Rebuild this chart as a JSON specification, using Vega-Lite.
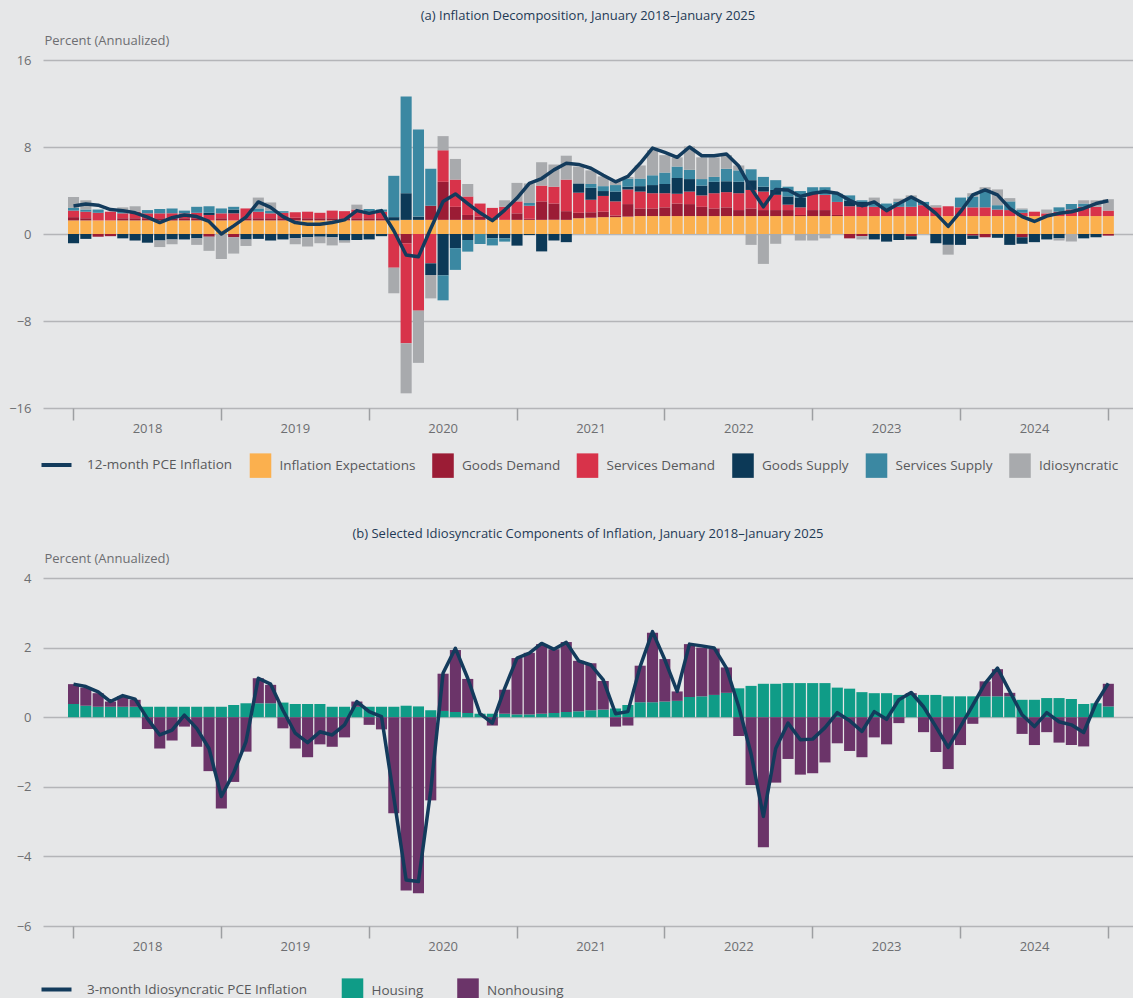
{
  "$schema": "https://vega.github.io/schema/vega-lite/v6.json",
  "background": "#e6e7e8",
  "padding": {"left": 0, "top": 10, "right": 0, "bottom": 0},
  "spacing": 50,
  "config": {
    "font": "Open Sans",
    "view": {"stroke": null},
    "title": {"fontSize": 13, "fontWeight": "normal", "color": "#1f3a56", "font": "Open Sans"},
    "axis": {"labelFont": "Open Sans", "labelFontSize": 13, "labelColor": "#6d6e71", "titleFont": "Open Sans"},
    "legend": {"labelFont": "Open Sans", "labelFontSize": 13.5, "labelColor": "#58595b", "labelLimit": 400}
  },
  "resolve": {
    "scale": {"color": "independent", "stroke": "independent", "x": "independent", "y": "independent"},
    "legend": {"color": "independent", "stroke": "independent"}
  },
  "datasets": {
    "a": [
      {"m":"2018-01","k1":1.25,"k2":0.3,"k3":0.6,"k4":-0.85,"k5":0.25,"k6":1.0,"L":2.58},
      {"m":"2018-02","k1":1.25,"k2":0.2,"k3":0.6,"k4":-0.45,"k5":0.2,"k6":0.85,"L":2.75},
      {"m":"2018-03","k1":1.25,"k2":-0.25,"k3":0.7,"k4":0,"k5":0.3,"k6":0,"L":2.65},
      {"m":"2018-04","k1":1.25,"k2":-0.2,"k3":0.8,"k4":0,"k5":0,"k6":0,"L":2.25},
      {"m":"2018-05","k1":1.25,"k2":0.2,"k3":0.45,"k4":-0.4,"k5":0.25,"k6":0.3,"L":2.15},
      {"m":"2018-06","k1":1.25,"k2":0.2,"k3":0.6,"k4":-0.6,"k5":0,"k6":0.5,"L":1.95},
      {"m":"2018-07","k1":1.25,"k2":0.2,"k3":0.45,"k4":-0.8,"k5":0.3,"k6":0,"L":1.55},
      {"m":"2018-08","k1":1.25,"k2":0.2,"k3":0.45,"k4":-0.6,"k5":0.4,"k6":-0.6,"L":1.05},
      {"m":"2018-09","k1":1.25,"k2":0.2,"k3":0.45,"k4":-0.5,"k5":0.45,"k6":-0.45,"L":1.5},
      {"m":"2018-10","k1":1.25,"k2":0.2,"k3":0.45,"k4":-0.5,"k5":0.25,"k6":0,"L":1.75},
      {"m":"2018-11","k1":1.25,"k2":0.2,"k3":0.5,"k4":-0.4,"k5":0.55,"k6":-0.6,"L":1.6},
      {"m":"2018-12","k1":1.25,"k2":-0.25,"k3":0.5,"k4":0.2,"k5":0.6,"k6":-1.3,"L":1.15},
      {"m":"2019-01","k1":1.25,"k2":0.2,"k3":0.45,"k4":0,"k5":0.45,"k6":-2.3,"L":0.0},
      {"m":"2019-02","k1":1.25,"k2":-0.3,"k3":0.65,"k4":0.35,"k5":0.25,"k6":-1.5,"L":0.75},
      {"m":"2019-03","k1":1.25,"k2":0.2,"k3":0.9,"k4":-0.5,"k5":0,"k6":-0.6,"L":1.55},
      {"m":"2019-04","k1":1.25,"k2":0.2,"k3":0.6,"k4":-0.45,"k5":0.3,"k6":1.0,"L":2.95},
      {"m":"2019-05","k1":1.25,"k2":0.2,"k3":0.45,"k4":-0.6,"k5":0.25,"k6":0.75,"L":2.45},
      {"m":"2019-06","k1":1.25,"k2":0.2,"k3":0.5,"k4":-0.5,"k5":0.15,"k6":0,"L":1.6},
      {"m":"2019-07","k1":1.25,"k2":0.25,"k3":0.5,"k4":-0.4,"k5":0,"k6":-0.55,"L":1.05},
      {"m":"2019-08","k1":1.25,"k2":0.2,"k3":0.6,"k4":-0.3,"k5":0,"k6":-0.85,"L":0.9},
      {"m":"2019-09","k1":1.25,"k2":0.2,"k3":0.5,"k4":-0.25,"k5":0,"k6":-0.6,"L":0.9},
      {"m":"2019-10","k1":1.25,"k2":0.2,"k3":0.7,"k4":-0.3,"k5":0,"k6":-0.75,"L":1.05},
      {"m":"2019-11","k1":1.25,"k2":0.2,"k3":0.65,"k4":-0.6,"k5":0,"k6":-0.2,"L":1.3},
      {"m":"2019-12","k1":1.25,"k2":0.2,"k3":0.8,"k4":-0.55,"k5":0,"k6":0.45,"L":2.15},
      {"m":"2020-01","k1":1.25,"k2":0.2,"k3":0.6,"k4":-0.5,"k5":0.25,"k6":0,"L":1.9},
      {"m":"2020-02","k1":1.25,"k2":0.2,"k3":0.6,"k4":-0.2,"k5":0.2,"k6":0,"L":2.15},
      {"m":"2020-03","k1":1.25,"k2":0,"k3":-3.1,"k4":0.3,"k5":3.8,"k6":-2.35,"L":0.3},
      {"m":"2020-04","k1":1.3,"k2":-0.85,"k3":-9.2,"k4":2.45,"k5":8.9,"k6":-4.6,"L":-1.93},
      {"m":"2020-05","k1":1.3,"k2":0,"k3":-7.05,"k4":0.3,"k5":8.0,"k6":-4.8,"L":-2.1},
      {"m":"2020-06","k1":1.3,"k2":1.3,"k3":-2.7,"k4":-1.07,"k5":3.4,"k6":-2.15,"L":0.5},
      {"m":"2020-07","k1":1.3,"k2":3.5,"k3":2.9,"k4":-3.8,"k5":-2.3,"k6":1.3,"L":2.98},
      {"m":"2020-08","k1":1.3,"k2":1.2,"k3":2.5,"k4":-1.3,"k5":-2.0,"k6":1.9,"L":3.68},
      {"m":"2020-09","k1":1.3,"k2":0.45,"k3":1.7,"k4":-0.55,"k5":-1.07,"k6":1.15,"L":2.8},
      {"m":"2020-10","k1":1.3,"k2":0.3,"k3":1.2,"k4":0,"k5":-0.92,"k6":0,"L":1.95},
      {"m":"2020-11","k1":1.3,"k2":0,"k3":1.1,"k4":-0.4,"k5":-0.65,"k6":0,"L":1.23},
      {"m":"2020-12","k1":1.3,"k2":0,"k3":1.2,"k4":-0.4,"k5":-0.3,"k6":0.6,"L":2.2},
      {"m":"2021-01","k1":1.3,"k2":0.6,"k3":1.1,"k4":-1.07,"k5":0,"k6":1.7,"L":3.3},
      {"m":"2021-02","k1":1.3,"k2":0.1,"k3":1.2,"k4":-0.1,"k5":0.25,"k6":1.8,"L":4.65},
      {"m":"2021-03","k1":1.3,"k2":1.7,"k3":1.45,"k4":-1.6,"k5":0,"k6":2.15,"L":5.1},
      {"m":"2021-04","k1":1.3,"k2":1.5,"k3":1.55,"k4":-0.6,"k5":0,"k6":2.05,"L":5.9},
      {"m":"2021-05","k1":1.3,"k2":0.8,"k3":2.9,"k4":-0.75,"k5":0,"k6":2.2,"L":6.5},
      {"m":"2021-06","k1":1.45,"k2":0.5,"k3":1.85,"k4":0.85,"k5":0,"k6":1.55,"L":6.4},
      {"m":"2021-07","k1":1.5,"k2":0.5,"k3":1.15,"k4":1.1,"k5":0.35,"k6":1.25,"L":6.05},
      {"m":"2021-08","k1":1.55,"k2":0.5,"k3":1.45,"k4":0.45,"k5":0.45,"k6":0.9,"L":5.4},
      {"m":"2021-09","k1":1.55,"k2":0.15,"k3":1.3,"k4":0.9,"k5":0.6,"k6":0.35,"L":4.8},
      {"m":"2021-10","k1":1.6,"k2":1.15,"k3":1.35,"k4":0.25,"k5":0.75,"k6":0.15,"L":5.3},
      {"m":"2021-11","k1":1.65,"k2":0.7,"k3":1.55,"k4":0.5,"k5":0.7,"k6":1.2,"L":6.5},
      {"m":"2021-12","k1":1.65,"k2":0.7,"k3":1.4,"k4":0.75,"k5":0.9,"k6":2.3,"L":7.9},
      {"m":"2022-01","k1":1.65,"k2":0.8,"k3":1.3,"k4":0.85,"k5":1.05,"k6":1.6,"L":7.5},
      {"m":"2022-02","k1":1.65,"k2":1.15,"k3":0.9,"k4":1.45,"k5":1.05,"k6":0.85,"L":7.05},
      {"m":"2022-03","k1":1.65,"k2":1.1,"k3":1.15,"k4":1.15,"k5":0.85,"k6":2.15,"L":8.0},
      {"m":"2022-04","k1":1.65,"k2":0.85,"k3":1.05,"k4":0.9,"k5":0.6,"k6":2.0,"L":7.2},
      {"m":"2022-05","k1":1.65,"k2":0.7,"k3":1.4,"k4":1.05,"k5":0.45,"k6":1.8,"L":7.2},
      {"m":"2022-06","k1":1.65,"k2":0.8,"k3":1.4,"k4":1.0,"k5":1.15,"k6":1.25,"L":7.35},
      {"m":"2022-07","k1":1.65,"k2":0.55,"k3":1.55,"k4":1.05,"k5":1.05,"k6":0.45,"L":6.25},
      {"m":"2022-08","k1":1.65,"k2":0.7,"k3":1.7,"k4":0.9,"k5":1.0,"k6":-1.0,"L":4.2},
      {"m":"2022-09","k1":1.65,"k2":0.55,"k3":1.7,"k4":0.45,"k5":0.9,"k6":-2.75,"L":2.5},
      {"m":"2022-10","k1":1.65,"k2":0.55,"k3":1.4,"k4":0.45,"k5":0.9,"k6":-0.9,"L":4.1},
      {"m":"2022-11","k1":1.65,"k2":0.55,"k3":0.5,"k4":0.75,"k5":0.9,"k6":0,"L":4.05},
      {"m":"2022-12","k1":1.65,"k2":0.1,"k3":0.7,"k4":0.9,"k5":0.6,"k6":-0.6,"L":3.45},
      {"m":"2023-01","k1":1.65,"k2":0.55,"k3":1.55,"k4":0,"k5":0.55,"k6":-0.6,"L":3.75},
      {"m":"2023-02","k1":1.65,"k2":0.55,"k3":1.4,"k4":0,"k5":0.7,"k6":-0.4,"L":3.9},
      {"m":"2023-03","k1":1.65,"k2":0.1,"k3":1.2,"k4":0,"k5":0.75,"k6":0,"L":3.75},
      {"m":"2023-04","k1":1.65,"k2":-0.4,"k3":0.9,"k4":0.5,"k5":0.5,"k6":0,"L":3.1},
      {"m":"2023-05","k1":1.65,"k2":-0.2,"k3":0.85,"k4":0.45,"k5":0.15,"k6":-0.3,"L":2.6},
      {"m":"2023-06","k1":1.65,"k2":0,"k3":0.85,"k4":-0.5,"k5":0.35,"k6":0.5,"L":2.95},
      {"m":"2023-07","k1":1.65,"k2":0,"k3":0.7,"k4":-0.7,"k5":0.45,"k6":0,"L":2.15},
      {"m":"2023-08","k1":1.65,"k2":0,"k3":0.85,"k4":-0.55,"k5":0.45,"k6":0.3,"L":2.8},
      {"m":"2023-09","k1":1.65,"k2":-0.2,"k3":0.85,"k4":-0.3,"k5":0.75,"k6":0.3,"L":3.4},
      {"m":"2023-10","k1":1.65,"k2":0,"k3":1.0,"k4":0,"k5":0.3,"k6":0,"L":2.8},
      {"m":"2023-11","k1":1.65,"k2":0,"k3":0.8,"k4":-0.85,"k5":0,"k6":0.2,"L":1.9},
      {"m":"2023-12","k1":1.65,"k2":0,"k3":0.9,"k4":-1.0,"k5":0,"k6":-0.9,"L":0.7},
      {"m":"2024-01","k1":1.65,"k2":0,"k3":0.8,"k4":-1.0,"k5":0.9,"k6":0,"L":2.05},
      {"m":"2024-02","k1":1.65,"k2":-0.15,"k3":0.8,"k4":-0.3,"k5":1.0,"k6":0.3,"L":3.6},
      {"m":"2024-03","k1":1.65,"k2":-0.3,"k3":0.8,"k4":0,"k5":1.55,"k6":0.3,"L":4.05},
      {"m":"2024-04","k1":1.65,"k2":0,"k3":0.6,"k4":-0.35,"k5":0.4,"k6":1.45,"L":3.6},
      {"m":"2024-05","k1":1.65,"k2":0,"k3":0.55,"k4":-1.0,"k5":0.8,"k6":0.3,"L":2.35},
      {"m":"2024-06","k1":1.65,"k2":-0.3,"k3":0.3,"k4":-0.6,"k5":0.3,"k6":0.1,"L":1.6},
      {"m":"2024-07","k1":1.65,"k2":0,"k3":0.4,"k4":-0.75,"k5":0,"k6":0,"L":1.15},
      {"m":"2024-08","k1":1.65,"k2":0,"k3":0.25,"k4":-0.5,"k5":0,"k6":0.35,"L":1.65},
      {"m":"2024-09","k1":1.65,"k2":0,"k3":0.4,"k4":-0.4,"k5":0.4,"k6":-0.2,"L":1.9},
      {"m":"2024-10","k1":1.65,"k2":0,"k3":0.6,"k4":0,"k5":0.5,"k6":-0.7,"L":2.05},
      {"m":"2024-11","k1":1.65,"k2":0,"k3":0.85,"k4":-0.4,"k5":0.3,"k6":0.3,"L":2.35},
      {"m":"2024-12","k1":1.65,"k2":0,"k3":0.85,"k4":-0.3,"k5":0,"k6":0.6,"L":2.8},
      {"m":"2025-01","k1":1.65,"k2":-0.15,"k3":0.5,"k4":0,"k5":0,"k6":1.05,"L":3.05}
    ],
    "b": [
      {"m":"2018-01","h":0.38,"n":0.57,"L":0.95},
      {"m":"2018-02","h":0.33,"n":0.52,"L":0.88},
      {"m":"2018-03","h":0.3,"n":0.39,"L":0.73},
      {"m":"2018-04","h":0.3,"n":0.15,"L":0.45},
      {"m":"2018-05","h":0.3,"n":0.31,"L":0.62},
      {"m":"2018-06","h":0.3,"n":0.2,"L":0.52},
      {"m":"2018-07","h":0.3,"n":-0.34,"L":-0.04},
      {"m":"2018-08","h":0.3,"n":-0.9,"L":-0.51},
      {"m":"2018-09","h":0.3,"n":-0.67,"L":-0.37},
      {"m":"2018-10","h":0.3,"n":-0.27,"L":0.06},
      {"m":"2018-11","h":0.3,"n":-0.85,"L":-0.32},
      {"m":"2018-12","h":0.3,"n":-1.55,"L":-0.9},
      {"m":"2019-01","h":0.3,"n":-2.62,"L":-2.28},
      {"m":"2019-02","h":0.35,"n":-1.86,"L":-1.6},
      {"m":"2019-03","h":0.4,"n":-0.99,"L":-0.7},
      {"m":"2019-04","h":0.4,"n":0.72,"L":1.12},
      {"m":"2019-05","h":0.4,"n":0.53,"L":0.95},
      {"m":"2019-06","h":0.42,"n":-0.32,"L":0.2},
      {"m":"2019-07","h":0.38,"n":-0.9,"L":-0.46},
      {"m":"2019-08","h":0.38,"n":-1.15,"L":-0.73},
      {"m":"2019-09","h":0.38,"n":-0.78,"L":-0.42},
      {"m":"2019-10","h":0.3,"n":-0.85,"L":-0.51},
      {"m":"2019-11","h":0.3,"n":-0.58,"L":-0.22},
      {"m":"2019-12","h":0.3,"n":0.15,"L":0.45},
      {"m":"2020-01","h":0.3,"n":-0.22,"L":0.16},
      {"m":"2020-02","h":0.3,"n":-0.35,"L":0.02},
      {"m":"2020-03","h":0.3,"n":-2.76,"L":-2.3},
      {"m":"2020-04","h":0.33,"n":-4.98,"L":-4.68},
      {"m":"2020-05","h":0.31,"n":-5.06,"L":-4.72},
      {"m":"2020-06","h":0.2,"n":-2.39,"L":-2.1},
      {"m":"2020-07","h":0.18,"n":1.07,"L":1.27},
      {"m":"2020-08","h":0.15,"n":1.78,"L":1.98},
      {"m":"2020-09","h":0.12,"n":0.98,"L":1.12},
      {"m":"2020-10","h":0.1,"n":0.0,"L":0.1},
      {"m":"2020-11","h":0.1,"n":-0.24,"L":-0.17},
      {"m":"2020-12","h":0.1,"n":0.69,"L":0.83},
      {"m":"2021-01","h":0.08,"n":1.62,"L":1.7},
      {"m":"2021-02","h":0.08,"n":1.77,"L":1.84},
      {"m":"2021-03","h":0.1,"n":2.0,"L":2.12},
      {"m":"2021-04","h":0.12,"n":1.83,"L":1.95},
      {"m":"2021-05","h":0.15,"n":2.01,"L":2.15},
      {"m":"2021-06","h":0.17,"n":1.45,"L":1.62},
      {"m":"2021-07","h":0.2,"n":1.35,"L":1.5},
      {"m":"2021-08","h":0.22,"n":0.82,"L":1.07},
      {"m":"2021-09","h":0.25,"n":-0.27,"L":0.1},
      {"m":"2021-10","h":0.35,"n":-0.24,"L":0.16},
      {"m":"2021-11","h":0.43,"n":1.05,"L":1.46},
      {"m":"2021-12","h":0.43,"n":2.0,"L":2.46},
      {"m":"2022-01","h":0.45,"n":1.22,"L":1.65},
      {"m":"2022-02","h":0.47,"n":0.27,"L":0.74},
      {"m":"2022-03","h":0.58,"n":1.52,"L":2.1},
      {"m":"2022-04","h":0.6,"n":1.4,"L":2.05},
      {"m":"2022-05","h":0.64,"n":1.33,"L":1.99},
      {"m":"2022-06","h":0.7,"n":0.73,"L":1.41},
      {"m":"2022-07","h":0.83,"n":-0.54,"L":0.3},
      {"m":"2022-08","h":0.9,"n":-1.95,"L":-1.05},
      {"m":"2022-09","h":0.96,"n":-3.74,"L":-2.85},
      {"m":"2022-10","h":0.96,"n":-1.88,"L":-0.9},
      {"m":"2022-11","h":0.98,"n":-1.2,"L":-0.17},
      {"m":"2022-12","h":0.98,"n":-1.65,"L":-0.65},
      {"m":"2023-01","h":0.98,"n":-1.61,"L":-0.63},
      {"m":"2023-02","h":0.98,"n":-1.3,"L":-0.3},
      {"m":"2023-03","h":0.85,"n":-0.75,"L":0.13},
      {"m":"2023-04","h":0.82,"n":-0.97,"L":-0.1},
      {"m":"2023-05","h":0.72,"n":-1.15,"L":-0.41},
      {"m":"2023-06","h":0.69,"n":-0.58,"L":0.16},
      {"m":"2023-07","h":0.69,"n":-0.78,"L":-0.06},
      {"m":"2023-08","h":0.64,"n":-0.17,"L":0.5},
      {"m":"2023-09","h":0.64,"n":0.05,"L":0.71},
      {"m":"2023-10","h":0.64,"n":-0.43,"L":0.3},
      {"m":"2023-11","h":0.64,"n":-1.0,"L":-0.27},
      {"m":"2023-12","h":0.6,"n":-1.49,"L":-0.87},
      {"m":"2024-01","h":0.6,"n":-0.8,"L":-0.27},
      {"m":"2024-02","h":0.6,"n":-0.19,"L":0.35},
      {"m":"2024-03","h":0.6,"n":0.43,"L":0.97},
      {"m":"2024-04","h":0.6,"n":0.78,"L":1.41},
      {"m":"2024-05","h":0.6,"n":0.1,"L":0.74},
      {"m":"2024-06","h":0.5,"n":-0.48,"L":0.07},
      {"m":"2024-07","h":0.5,"n":-0.8,"L":-0.27},
      {"m":"2024-08","h":0.55,"n":-0.43,"L":0.13},
      {"m":"2024-09","h":0.55,"n":-0.73,"L":-0.13},
      {"m":"2024-10","h":0.52,"n":-0.8,"L":-0.22},
      {"m":"2024-11","h":0.38,"n":-0.84,"L":-0.44},
      {"m":"2024-12","h":0.4,"n":0.0,"L":0.4},
      {"m":"2025-01","h":0.31,"n":0.65,"L":0.97}
    ]
  },
  "vconcat": [
    {
      "title": {"text": "(a) Inflation Decomposition, January 2018–January 2025", "frame": "group", "anchor": "middle", "offset": 11},
      "width": 1090,
      "height": 348,
      "data": {"name": "a"},
      "encoding": {
        "x": {
          "field": "m", "type": "ordinal",
          "scale": {
            "domain": ["2017-12","2018-01","2018-02","2018-03","2018-04","2018-05","2018-06","2018-07","2018-08","2018-09","2018-10","2018-11","2018-12","2019-01","2019-02","2019-03","2019-04","2019-05","2019-06","2019-07","2019-08","2019-09","2019-10","2019-11","2019-12","2020-01","2020-02","2020-03","2020-04","2020-05","2020-06","2020-07","2020-08","2020-09","2020-10","2020-11","2020-12","2021-01","2021-02","2021-03","2021-04","2021-05","2021-06","2021-07","2021-08","2021-09","2021-10","2021-11","2021-12","2022-01","2022-02","2022-03","2022-04","2022-05","2022-06","2022-07","2022-08","2022-09","2022-10","2022-11","2022-12","2023-01","2023-02","2023-03","2023-04","2023-05","2023-06","2023-07","2023-08","2023-09","2023-10","2023-11","2023-12","2024-01","2024-02","2024-03","2024-04","2024-05","2024-06","2024-07","2024-08","2024-09","2024-10","2024-11","2024-12","2025-01","2025-02"],
            "paddingInner": 0.1, "paddingOuter": 0.79, "align": 0.65
          },
          "axis": {
            "values": ["2018-01","2019-01","2020-01","2021-01","2022-01","2023-01","2024-01","2025-01"],
            "title": null, "domain": false, "grid": false, "ticks": true, "tickSize": 12,
            "tickColor": "#9d9fa2", "tickWidth": 1.5, "labelAngle": 0, "labelOffset": 74,
            "labelPadding": 2, "labelOverlap": false, "labelBound": false,
            "labelExpr": "datum.value < '2025' ? slice(datum.value, 0, 4) : ''"
          }
        },
        "y": {
          "type": "quantitative",
          "scale": {"domain": [-16, 16], "nice": false},
          "axis": {
            "values": [-16, -8, 0, 8, 16], "title": "Percent (Annualized)",
            "titleAngle": 0, "titleAlign": "left", "titleBaseline": "middle", "titleX": 1, "titleY": -20,
            "titleFontWeight": "normal", "titleFontSize": 13, "titleColor": "#6d6e71",
            "grid": true, "gridColor": "#b4b5b8", "gridWidth": 1.5,
            "domain": false, "ticks": false, "tickSize": 0, "labelPadding": 12,
            "minExtent": 43, "maxExtent": 43
          }
        }
      },
      "layer": [
        {
          "transform": [{"fold": ["k1","k2","k3","k4","k5","k6"], "as": ["k","v"]}],
          "mark": {"type": "bar"},
          "encoding": {
            "y": {"field": "v", "stack": "zero"},
            "color": {
              "field": "k", "type": "nominal",
              "scale": {"domain": ["k1","k2","k3","k4","k5","k6"], "range": ["#fbb04e","#9b1c35","#d8334a","#0c3957","#3b88a2","#a8aaad"]},
              "legend": {
                "orient": "none", "legendX": 205, "legendY": 393, "direction": "horizontal", "columns": 6,
                "title": null, "symbolType": "M-0.88,-1H0.88V1H-0.88Z", "symbolSize": 600, "symbolStrokeWidth": 0,
                "columnPadding": 14.5, "labelOffset": 6.5,
                "labelExpr": "datum.value == 'k1' ? 'Inflation Expectations' : datum.value == 'k2' ? 'Goods Demand' : datum.value == 'k3' ? 'Services Demand' : datum.value == 'k4' ? 'Goods Supply' : datum.value == 'k5' ? 'Services Supply' : 'Idiosyncratic'"
              }
            },
            "order": {"field": "k", "type": "ordinal", "sort": "ascending"}
          }
        },
        {
          "mark": {"type": "line", "strokeWidth": 3.5, "strokeJoin": "round"},
          "encoding": {
            "y": {"field": "L"},
            "stroke": {
              "datum": "12-month PCE Inflation", "type": "nominal",
              "scale": {"range": ["#133b5c"]},
              "legend": {
                "orient": "none", "legendX": -3.5, "legendY": 388, "title": null,
                "symbolType": "stroke", "symbolSize": 900, "symbolStrokeWidth": 4, "labelOffset": 13.5
              }
            }
          }
        }
      ]
    },
    {
      "title": {"text": "(b) Selected Idiosyncratic Components of Inflation, January 2018–January 2025", "frame": "group", "anchor": "middle", "offset": 11},
      "width": 1090,
      "height": 348,
      "data": {"name": "b"},
      "encoding": {
        "x": {
          "field": "m", "type": "ordinal",
          "scale": {
            "domain": ["2017-12","2018-01","2018-02","2018-03","2018-04","2018-05","2018-06","2018-07","2018-08","2018-09","2018-10","2018-11","2018-12","2019-01","2019-02","2019-03","2019-04","2019-05","2019-06","2019-07","2019-08","2019-09","2019-10","2019-11","2019-12","2020-01","2020-02","2020-03","2020-04","2020-05","2020-06","2020-07","2020-08","2020-09","2020-10","2020-11","2020-12","2021-01","2021-02","2021-03","2021-04","2021-05","2021-06","2021-07","2021-08","2021-09","2021-10","2021-11","2021-12","2022-01","2022-02","2022-03","2022-04","2022-05","2022-06","2022-07","2022-08","2022-09","2022-10","2022-11","2022-12","2023-01","2023-02","2023-03","2023-04","2023-05","2023-06","2023-07","2023-08","2023-09","2023-10","2023-11","2023-12","2024-01","2024-02","2024-03","2024-04","2024-05","2024-06","2024-07","2024-08","2024-09","2024-10","2024-11","2024-12","2025-01","2025-02"],
            "paddingInner": 0.1, "paddingOuter": 0.79, "align": 0.65
          },
          "axis": {
            "values": ["2018-01","2019-01","2020-01","2021-01","2022-01","2023-01","2024-01","2025-01"],
            "title": null, "domain": false, "grid": false, "ticks": true, "tickSize": 12,
            "tickColor": "#9d9fa2", "tickWidth": 1.5, "labelAngle": 0, "labelOffset": 74,
            "labelPadding": 2, "labelOverlap": false, "labelBound": false,
            "labelExpr": "datum.value < '2025' ? slice(datum.value, 0, 4) : ''"
          }
        },
        "y": {
          "type": "quantitative",
          "scale": {"domain": [-6, 4], "nice": false},
          "axis": {
            "values": [-6, -4, -2, 0, 2, 4], "title": "Percent (Annualized)",
            "titleAngle": 0, "titleAlign": "left", "titleBaseline": "middle", "titleX": 1, "titleY": -20,
            "titleFontWeight": "normal", "titleFontSize": 13, "titleColor": "#6d6e71",
            "grid": true, "gridColor": "#b4b5b8", "gridWidth": 1.5,
            "domain": false, "ticks": false, "tickSize": 0, "labelPadding": 12,
            "minExtent": 43, "maxExtent": 43
          }
        }
      },
      "layer": [
        {
          "transform": [{"fold": ["h","n"], "as": ["k","v"]}],
          "mark": {"type": "bar"},
          "encoding": {
            "y": {"field": "v", "stack": "zero"},
            "color": {
              "field": "k", "type": "nominal",
              "scale": {"domain": ["h","n"], "range": ["#0f9c87","#6b3469"]},
              "legend": {
                "orient": "none", "legendX": 297, "legendY": 400, "direction": "horizontal", "columns": 2,
                "title": null, "symbolType": "M-0.88,-1H0.88V1H-0.88Z", "symbolSize": 600, "symbolStrokeWidth": 0,
                "columnPadding": 31.5, "labelOffset": 6.5,
                "labelExpr": "datum.value == 'h' ? 'Housing' : 'Nonhousing'"
              }
            },
            "order": {"field": "k", "type": "ordinal", "sort": "ascending"}
          }
        },
        {
          "mark": {"type": "line", "strokeWidth": 3.5, "strokeJoin": "round"},
          "encoding": {
            "y": {"field": "L"},
            "stroke": {
              "datum": "3-month Idiosyncratic PCE Inflation", "type": "nominal",
              "scale": {"range": ["#133b5c"]},
              "legend": {
                "orient": "none", "legendX": -3.5, "legendY": 394.5, "title": null,
                "symbolType": "stroke", "symbolSize": 900, "symbolStrokeWidth": 4, "labelOffset": 13.5
              }
            }
          }
        }
      ]
    }
  ]
}
